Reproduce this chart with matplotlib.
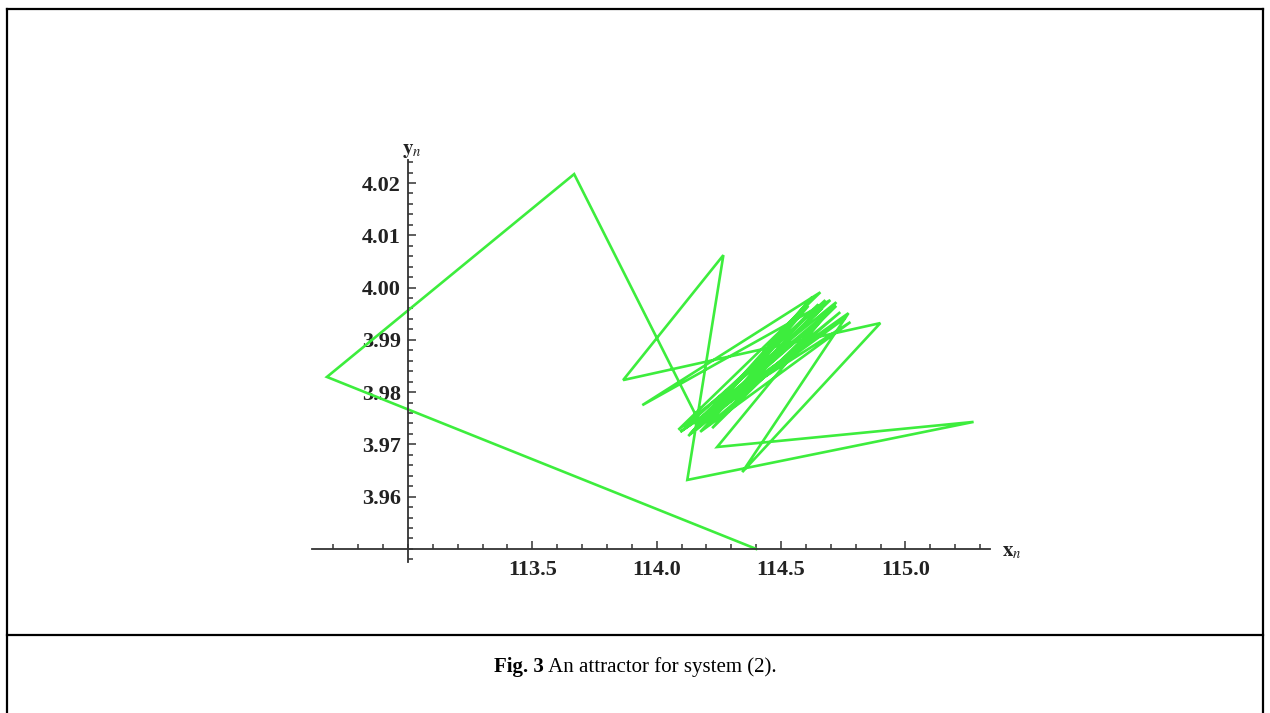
import matplotlib
matplotlib.use("Agg")
import matplotlib.pyplot as plt
from matplotlib.lines import Line2D
from matplotlib.ticker import MultipleLocator, FormatStrFormatter

# orbit of the map (x_n, y_n)
xs = [114.400, 112.674, 113.668, 114.175, 114.698, 113.942, 114.658, 114.087,
      114.722, 114.243, 115.274, 114.123, 114.268, 113.865, 114.899, 114.344,
      114.771, 114.095, 114.759, 114.195, 114.626, 114.127, 114.722, 114.223,
      114.678, 114.111, 114.779, 114.175, 114.650, 114.151, 114.698, 114.135,
      114.610, 114.203, 114.738, 114.159, 114.666, 114.175]
ys = [3.9500, 3.9829, 4.0217, 3.9739, 3.9976, 3.9775, 3.9991, 3.9728,
      3.9972, 3.9695, 3.9743, 3.9632, 4.0062, 3.9823, 3.9932, 3.9647,
      3.9951, 3.9724, 3.9942, 3.9747, 3.9982, 3.9716, 3.9965, 3.9731,
      3.9976, 3.9731, 3.9934, 3.9724, 3.9968, 3.9739, 3.9957, 3.9720,
      3.9965, 3.9735, 3.9953, 3.9728, 3.9961, 3.9737]

xticks = [113.5, 114.0, 114.5, 115.0]
yticks = [3.96, 3.97, 3.98, 3.99, 4.00, 4.01, 4.02]
caption_bold = "Fig. 3"
caption_text = " An attractor for system (2)."

plt.rcParams['mathtext.fontset'] = 'stix'
serif = "Liberation Serif"
W, H = 1270, 713

fig = plt.figure(figsize=(W / 100, H / 100), dpi=100)
ax = fig.add_axes([312 / W, (H - 562) / H, 678 / W, 402 / H])
ax.patch.set_alpha(0)

ax.plot(xs, ys, color="#3ded3d", lw=1.9, solid_joinstyle="miter", clip_on=False)

ax.set_xlim(112.614, 115.34)
ax.set_ylim(3.9475, 4.0244)

# Mathematica-style axes crossing at (113, 3.95)
for s in ["top", "right"]:
    ax.spines[s].set_visible(False)
ax.spines["left"].set_position(("data", 113.0))
ax.spines["bottom"].set_position(("data", 3.95))
for s in ["left", "bottom"]:
    ax.spines[s].set_color("#333333")
    ax.spines[s].set_linewidth(1.3)

ax.set_xticks(xticks)
ax.set_yticks(yticks)
ax.xaxis.set_major_formatter(FormatStrFormatter("%.1f"))
ax.yaxis.set_major_formatter(FormatStrFormatter("%.2f"))
ax.xaxis.set_minor_locator(MultipleLocator(0.1))
ax.yaxis.set_minor_locator(MultipleLocator(0.002))
ax.tick_params(which="both", direction="in", color="#333333", width=1.1)
ax.tick_params(which="major", length=6)
ax.tick_params(which="minor", length=3.5)
ax.tick_params(axis="x", which="major", pad=8)
ax.tick_params(axis="y", which="major", pad=5)
for lab in ax.get_xticklabels() + ax.get_yticklabels():
    lab.set_fontfamily(serif)
    lab.set_fontweight("bold")
    lab.set_fontsize(16)
    lab.set_color("#222222")

fig.text(412 / W, 1 - 150 / H, r"$\mathbf{y}_{n}$", fontsize=15, ha="center", va="center", color="#222222")
fig.text(1012 / W, 1 - 551 / H, r"$\mathbf{x}_{n}$", fontsize=15, ha="center", va="center", color="#222222")

# frame and caption separator
def pline(xp, yp):
    fig.add_artist(Line2D([x / W for x in xp], [1 - y / H for y in yp],
                          color="black", lw=1.6, transform=fig.transFigure))

pline([7, 7], [9, 713])
pline([1263, 1263], [9, 713])
pline([7, 1263], [9, 9])
pline([7, 1263], [635, 635])

# caption: bold "Fig. 3" followed by regular text, centred together
t1 = fig.text(0, 1 - 667 / H, caption_bold, fontfamily=serif, fontweight="bold",
              fontsize=15, ha="left", va="center")
t2 = fig.text(0, 1 - 667 / H, caption_text, fontfamily=serif,
              fontsize=15, ha="left", va="center")
fig.canvas.draw()
r = fig.canvas.get_renderer()
w1 = t1.get_window_extent(r).width
w2 = t2.get_window_extent(r).width
x0 = 635 - (w1 + w2) / 2
t1.set_x(x0 / W)
t2.set_x((x0 + w1) / W)

fig.savefig("out.png", dpi=100)
